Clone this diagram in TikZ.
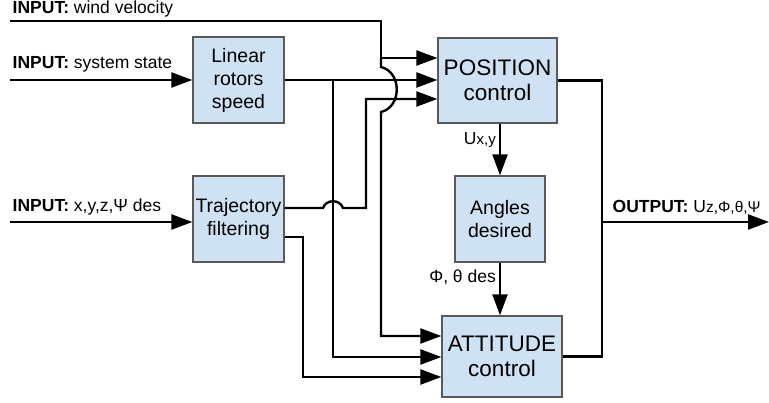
\documentclass[tikz,border=0pt]{standalone}
\usepackage{fontspec}
\setmainfont{Liberation Sans}
\usetikzlibrary{arrows.meta}
\definecolor{boxfill}{HTML}{CFE2F3}
\definecolor{boxline}{HTML}{595959}
\begin{document}
\begin{tikzpicture}[x=1pt,y=-1pt,
  blk/.style={draw=boxline, fill=boxfill, line width=1.3pt, inner sep=0pt, align=center},
  bigtxt/.style={font=\fontsize{22.5}{25.5}\selectfont},
  midtxt/.style={font=\fontsize{19.5}{23}\selectfont},
  wire/.style={line width=2.4pt},
  arr/.style={wire, -{Triangle[length=21pt,width=15pt]}},
  lbl/.style={font=\fontsize{17.5}{19}\selectfont, inner sep=0pt, anchor=base west}]
\useasboundingbox (0,0) rectangle (769,403);

% blocks
\node[blk, midtxt, minimum width=91pt, minimum height=86pt] (lin) at (238.5,80) {Linear\\rotors\\speed};
\node[blk, bigtxt, minimum width=119pt, minimum height=85pt] (pos) at (497.5,80.5) {POSITION\\control};
\node[blk, midtxt, minimum width=91pt, minimum height=86pt] (traj) at (238.5,219) {Trajectory\\filtering};
\node[blk, midtxt, minimum width=90pt, minimum height=86pt] (ang) at (500,219) {Angles\\desired};
\node[blk, bigtxt, minimum width=120pt, minimum height=81pt] (att) at (502,356.5) {ATTITUDE\\control};

% coordinates
\coordinate (w0) at (10,21);
\coordinate (wj) at (381,58);
\coordinate (wa) at (381,67);
\coordinate (wb) at (381,112);
\coordinate (wd) at (381,336);
\coordinate (s0) at (10,80);
\coordinate (sj) at (333,80);
\coordinate (sd) at (333,357);
\coordinate (t0) at (10,222);
\coordinate (ha) at (323,208);
\coordinate (hb) at (343,208);
\coordinate (tp) at (366,99);
\coordinate (tq) at (303,377);
\coordinate (ox) at (602,222);
\coordinate (out) at (769,222);

% wind velocity
\draw[arr] (w0) -| (wj) -- (wj -| pos.west);
\draw[arr] (wj) -- (wa) .. controls (402,72) and (402,107) .. (wb) -- (wd) -- (wd -| att.west);

% system state / linear rotors speed
\draw[arr] (s0) -- (s0 -| lin.west);
\draw[arr] (lin.east) -- (lin.east -| pos.west);
\draw[arr] (sj) -- (sd) -- (sd -| att.west);

% trajectory
\draw[arr] (t0) -- (t0 -| traj.west);
\draw[arr] ([yshift=11pt]traj.east) -- (ha) .. controls (326,199) and (340,199) .. (hb) -- (hb -| tp) -- (tp) -- (tp -| pos.west);
\draw[arr] ([yshift=-18pt]traj.east) -| (tq) -- (tq -| att.west);

% position -> angles -> attitude
\draw[arr] (pos.south -| ang.north) -- (ang.north);
\draw[arr] (ang.south) -- (ang.south |- att.north);

% output
\draw[wire] (pos.east) -| (ox |- att.east) -- (att.east);
\draw[arr] (ox) -- (out);

% labels
\node[lbl] (l1) at (12.5,13.5) {\textbf{INPUT:} wind velocity};
\node[lbl] (l2) at (12.5,68.5) {\textbf{INPUT:} system state};
\node[lbl] (l3) at (12.5,211.5) {\textbf{INPUT:} x,y,z,Ψ des};
\node[lbl] (l4) at (612.5,213) {\textbf{OUTPUT:} U{\fontsize{15.5}{16}\selectfont z,Φ,θ,Ψ}};
\node[lbl, anchor=base east] (l5) at (496,145) {U{\fontsize{15}{16}\selectfont x,y}};
\node[lbl, anchor=base east] (l6) at (496,282.5) {Φ, θ des};
\end{tikzpicture}
\end{document}
